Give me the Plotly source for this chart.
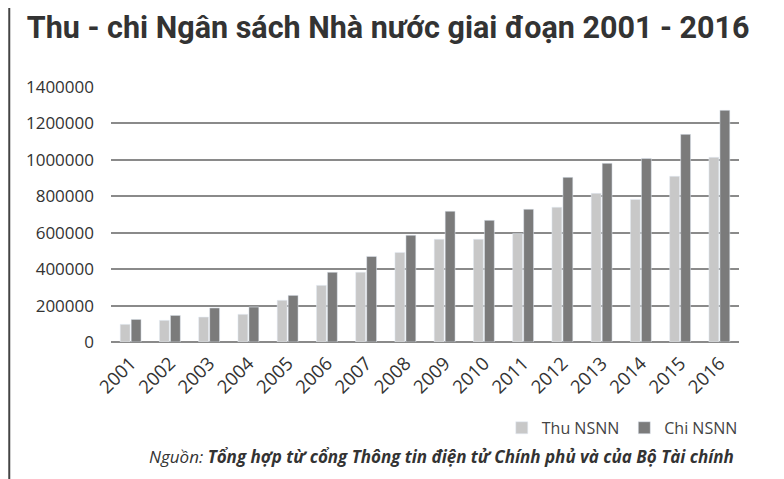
import plotly.graph_objects as go

years = [str(y) for y in range(2001, 2017)]
thu = [97000, 119000, 137000, 152000, 229000, 311000, 383000, 492000,
       564000, 564000, 595000, 740000, 816000, 783000, 910000, 1014000]
chi = [124000, 146000, 187000, 192000, 256000, 383000, 470000, 586000,
       718000, 668000, 729000, 904000, 981000, 1008000, 1140000, 1272000]
y_ticks = [0, 200000, 400000, 600000, 800000, 1000000, 1200000, 1400000]

title_text = "Thu - chi Ngân sách Nhà nước giai đoạn 2001 - 2016"
source_text = "<i>Nguồn: <b>Tổng hợp từ cổng Thông tin điện tử Chính phủ và của Bộ Tài chính</b></i>"

fig = go.Figure()
fig.add_trace(go.Bar(x=years, y=thu, name="Thu NSNN", marker_color="#c8c8c8"))
fig.add_trace(go.Bar(x=years, y=chi, name="Chi NSNN", marker_color="#7b7b7b"))

fig.update_layout(
    width=776, height=471,
    margin=dict(l=103, r=45, t=79, b=137, autoexpand=False),
    paper_bgcolor="white", plot_bgcolor="white",
    font=dict(family="Open Sans", size=16, color="#333333"),
    barmode="group", bargap=0.44, bargroupgap=0.1,
    title=dict(text="<b>" + title_text + "</b>", x=0.49, xref="container", xanchor="center",
               y=0.96, yref="container", yanchor="middle",
               font=dict(family="Roboto", size=30.5, color="#333333")),
    showlegend=True,
    legend=dict(orientation="h", x=1.006, xanchor="right", y=-0.27, yanchor="top",
                font=dict(size=16, color="#444444"), itemwidth=30,
                traceorder="normal"),
)
fig.update_yaxes(range=[0, 1400000], tickvals=y_ticks, ticktext=[str(v) for v in y_ticks],
                 showgrid=True, gridcolor="#8a8a8a", gridwidth=1.5,
                 zeroline=True, zerolinecolor="#8a8a8a", zerolinewidth=1.5,
                 ticks="", ticklabelstandoff=16, tickfont=dict(size=17), automargin=False)
fig.update_xaxes(tickangle=-45, showline=False, ticks="", tickfont=dict(size=18.5),
                 ticklabelstandoff=6, automargin=False)

fig.add_annotation(text=source_text, xref="paper", yref="paper", x=0.996, xanchor="right",
                   y=-0.45, yanchor="middle", showarrow=False,
                   font=dict(family="Open Sans", size=17, color="#333333"))
fig.add_shape(type="line", xref="paper", yref="paper", x0=-0.162, x1=-0.162, y0=-0.6, y1=1.4,
              line=dict(color="#444444", width=2))

fig.write_html("out.html")
